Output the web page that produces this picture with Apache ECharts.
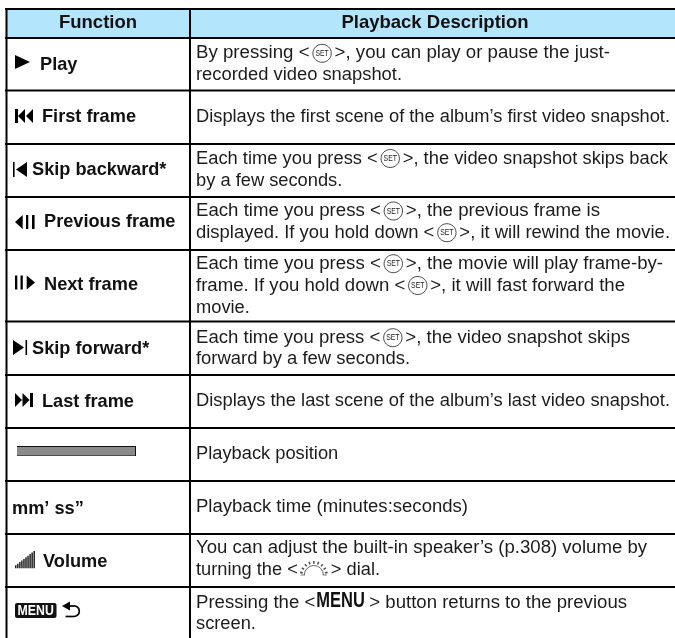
<!DOCTYPE html>
<html><head><meta charset="utf-8">
<style>html,body{margin:0;padding:0;background:#fff}#c{width:675px;height:638px}</style>
<script src="https://cdn.jsdelivr.net/npm/echarts@6/dist/echarts.min.js"></script>
</head><body><div id="c"></div>
<script>
const headers = ['Function', 'Playback Description'];
const functionLabels = ['Play', 'First frame', 'Skip backward*', 'Previous frame', 'Next frame', 'Skip forward*', 'Last frame', '', 'mm\u2019 ss\u201d', 'Volume', ''];
const functionIcons = ['play', 'first', 'skipBack', 'prev', 'next', 'skipFwd', 'last', 'bar', '', 'volume', 'menu'];
const descriptions = [
  ['By pressing <{set}>, you can play or pause the just-', 'recorded video snapshot.'],
  ['Displays the first scene of the album\u2019s first video snapshot.'],
  ['Each time you press <{set}>, the video snapshot skips back', 'by a few seconds.'],
  ['Each time you press <{set}>, the previous frame is', 'displayed. If you hold down <{set}>, it will rewind the movie.'],
  ['Each time you press <{set}>, the movie will play frame-by-', 'frame. If you hold down <{set}>, it will fast forward the', 'movie.'],
  ['Each time you press <{set}>, the video snapshot skips', 'forward by a few seconds.'],
  ['Displays the last scene of the album\u2019s last video snapshot.'],
  ['Playback position'],
  ['Playback time (minutes:seconds)'],
  ['You can adjust the built-in speaker\u2019s (p.308) volume by', 'turning the <{dial}> dial.'],
  ['Pressing the <{menu}> button returns to the previous', 'screen.']
];

/* layout, in page pixels */
const W = 675, H = 638;
const rowEdges = [9, 38, 90.5, 144, 197, 250, 321.5, 375, 428, 481, 534, 587];
const colEdges = [6.5, 190];
const labelX = [40, 42, 32, 44, 44, 32, 42, 0, 12, 43, 0];
const labelY = [65, 116.7, 170, 222.3, 285, 349, 401.7, 0, 509, 561.7, 0];
const textY = [[53.3, 75.4], [116.7], [158.5, 181], [211, 232.7], [263.7, 285.5, 307.5], [337.7, 359.3], [401.3], [454], [507], [548.3, 570], [602.7, 624]];
const lineEnd = [[610, 402], [670], [668, 0], [600, 670], [663, 625, 0], [630, 410], [670], [0], [468], [647, 380], [627, 0]];
const BODY = '18.3px "Liberation Sans"', BOLD = 'bold 18.2px "Liberation Sans"', HEAD = 'bold 18.5px "Liberation Sans"';
const INK = '#1c1c1c', HEADER_FILL = '#b3e5fc';
const meas = document.createElement('canvas').getContext('2d');
const tokenW = { set: 25, dial: 33, menu: 54 };

function renderRow(params, api) {
  const i = api.value(0);
  const P = (x, y) => api.coord([x, y]);
  const kids = [];
  const text = (s, x, y, font, fill, align, sx) => {
    const p = P(x, y);
    kids.push({ type: 'text', x: p[0], y: p[1], scaleX: sx || 1, style: { text: s, x: 0, y: 0, font: font, fill: fill || INK, align: align || 'left', verticalAlign: 'middle' } });
  };
  const rect = (x, y, w, h, fill, r) => {
    const p = P(x, y);
    kids.push({ type: 'rect', shape: { x: p[0], y: p[1], width: w, height: h, r: r || 0 }, style: { fill: fill } });
  };
  const poly = (pts, fill) => kids.push({ type: 'polygon', shape: { points: pts.map(a => P(a[0], a[1])) }, style: { fill: fill || '#000' } });
  const line = (pts, color, w) => kids.push({ type: 'polyline', shape: { points: pts.map(a => P(a[0], a[1])) }, style: { stroke: color || '#000', lineWidth: w || 1, fill: null } });
  const arc = (cx, cy, r, a0, a1, color, w) => { const p = P(cx, cy); kids.push({ type: 'arc', shape: { cx: p[0], cy: p[1], r: r, startAngle: a0, endAngle: a1 }, style: { stroke: color || '#000', lineWidth: w || 1, fill: null } }); };

  const tokens = {
    set(x, y) {
      const p = P(x + 12.5, y);
      kids.push({ type: 'ellipse', shape: { cx: p[0], cy: p[1], rx: 9.2, ry: 9 }, style: { stroke: '#333', lineWidth: 0.9, fill: '#fff' } });
      text('SET', x + 12.5, y, '9.5px "Liberation Sans"', '#222', 'center', 0.72);
    },
    dial(x, y) {
      const cx = x + 16, cy = y + 5;
      line([[cx - 13, cy], [cx - 9, cy]], '#666', 0.9);
      line([[cx + 9, cy], [cx + 13, cy]], '#666', 0.9);
      arc(cx, cy, 9.5, Math.PI, 2 * Math.PI, '#555', 0.9);
      for (let k = 0; k <= 8; k++) {
        const a = Math.PI * 1.06 + k * Math.PI * 0.88 / 8, c = Math.cos(a), s = Math.sin(a);
        line([[cx + 11.3 * c, cy + 11.3 * s], [cx + 14 * c, cy + 14 * s]], '#555', 1.6);
      }
    },
    menu(x, y) {
      text('MENU', x + 1, y - 1.5, 'bold 22px "Liberation Sans"', '#111', 'left', 0.75);
    }
  };

  const icons = {
    play() { poly([[15, 55], [30, 62], [15, 69]]); },
    first() {
      rect(15, 109, 3, 14, '#000');
      poly([[25, 109], [18, 116], [25, 123]]); poly([[33, 109], [26, 116], [33, 123]]);
    },
    skipBack() { rect(13, 162, 1.6, 15, '#000'); poly([[27, 162], [16, 169.5], [27, 177]]); },
    prev() { poly([[22.7, 215], [15, 222], [22.7, 229]]); rect(26, 215, 2.3, 14, '#000'); rect(32, 215, 2.6, 14, '#000'); },
    next() { rect(15, 275.5, 2.3, 14, '#000'); rect(20.5, 275.5, 2.3, 14, '#000'); poly([[26.7, 275.5], [35, 282.5], [26.7, 289.5]]); },
    skipFwd() { poly([[13, 340], [24, 347.5], [13, 355]]); rect(25.5, 340, 1.6, 15, '#000'); },
    last() {
      poly([[15, 393], [22, 400], [15, 407]]); poly([[22.5, 393], [29.5, 400], [22.5, 407]]);
      rect(30, 393, 3, 14, '#000');
    },
    bar() {
      rect(17, 446, 119, 10, '#111');
      rect(17, 447, 118, 8.5, '#8a8a8a');
    },
    volume() {
      for (let k = 0; k < 10; k++) { const h = 3 + k * 1.6; rect(15 + k * 2.05, 568.3 - h, 1.5, h, '#222'); }
    },
    menu() {
      rect(15, 603, 41.5, 15, '#111', 2);
      text('MENU', 35.7, 611, 'bold 15px "Liberation Sans"', '#fff', 'center', 0.82);
      poly([[62, 606], [70, 601.5], [70, 610.5]]);
      line([[68, 606], [74, 606]], '#000', 1.7);
      arc(74, 611.2, 5.3, -Math.PI / 2, Math.PI / 2, '#000', 1.7);
      line([[74, 616.5], [65.5, 616.5]], '#000', 1.7);
    }
  };

  // header fill and text
  if (i === 0) {
    rect(colEdges[0], rowEdges[0], W, rowEdges[1] - rowEdges[0], HEADER_FILL);
    text(headers[0], 98, 23.3, HEAD, '#111', 'center');
    text(headers[1], 435, 23.3, HEAD, '#111', 'center');
  }
  // icon and label
  if (functionIcons[i]) icons[functionIcons[i]]();
  if (functionLabels[i]) text(functionLabels[i], labelX[i], labelY[i], BOLD, '#111');
  // description lines, with inline symbols
  meas.font = BODY;
  descriptions[i].forEach((ln, li) => {
    const start = 196;
    const y = textY[i][li];
    const parts = ln.split(/(\{\w+\})/).filter(Boolean);
    let natural = 0, fixed = 0;
    parts.forEach(seg => {
      const m = seg.match(/^\{(\w+)\}$/);
      if (m) fixed += tokenW[m[1]]; else natural += meas.measureText(seg).width;
    });
    const end = lineEnd[i][li];
    const sx = end ? (end - start - fixed) / natural : 1;
    let x = start;
    parts.forEach(seg => {
      const m = seg.match(/^\{(\w+)\}$/);
      if (m) { tokens[m[1]](x, y); x += tokenW[m[1]]; }
      else { text(seg, x, y, BODY, INK, 'left', sx); x += meas.measureText(seg).width * sx; }
    });
  });
  // rules
  if (i === 0) line([[5, rowEdges[0]], [W, rowEdges[0]]], '#000', 2);
  line([[5, rowEdges[i + 1]], [W, rowEdges[i + 1]]], '#000', 2);
  if (i === descriptions.length - 1) {
    colEdges.forEach(x => line([[x, rowEdges[0] - 1], [x, H]], '#000', 2));
  }
  return { type: 'group', children: kids };
}

const chart = echarts.init(document.getElementById('c'), null, { renderer: 'canvas', width: W, height: H });
chart.setOption({
  animation: false,
  backgroundColor: '#fff',
  grid: { left: 0, right: 0, top: 0, bottom: 0 },
  xAxis: { type: 'value', min: 0, max: W, show: false },
  yAxis: { type: 'value', min: 0, max: H, inverse: true, show: false },
  series: [{
    type: 'custom',
    coordinateSystem: 'cartesian2d',
    silent: true,
    clip: false,
    data: descriptions.map((d, i) => [i, rowEdges[i + 1]]),
    encode: { x: 0, y: 1 },
    renderItem: renderRow
  }]
});
</script></body></html>
